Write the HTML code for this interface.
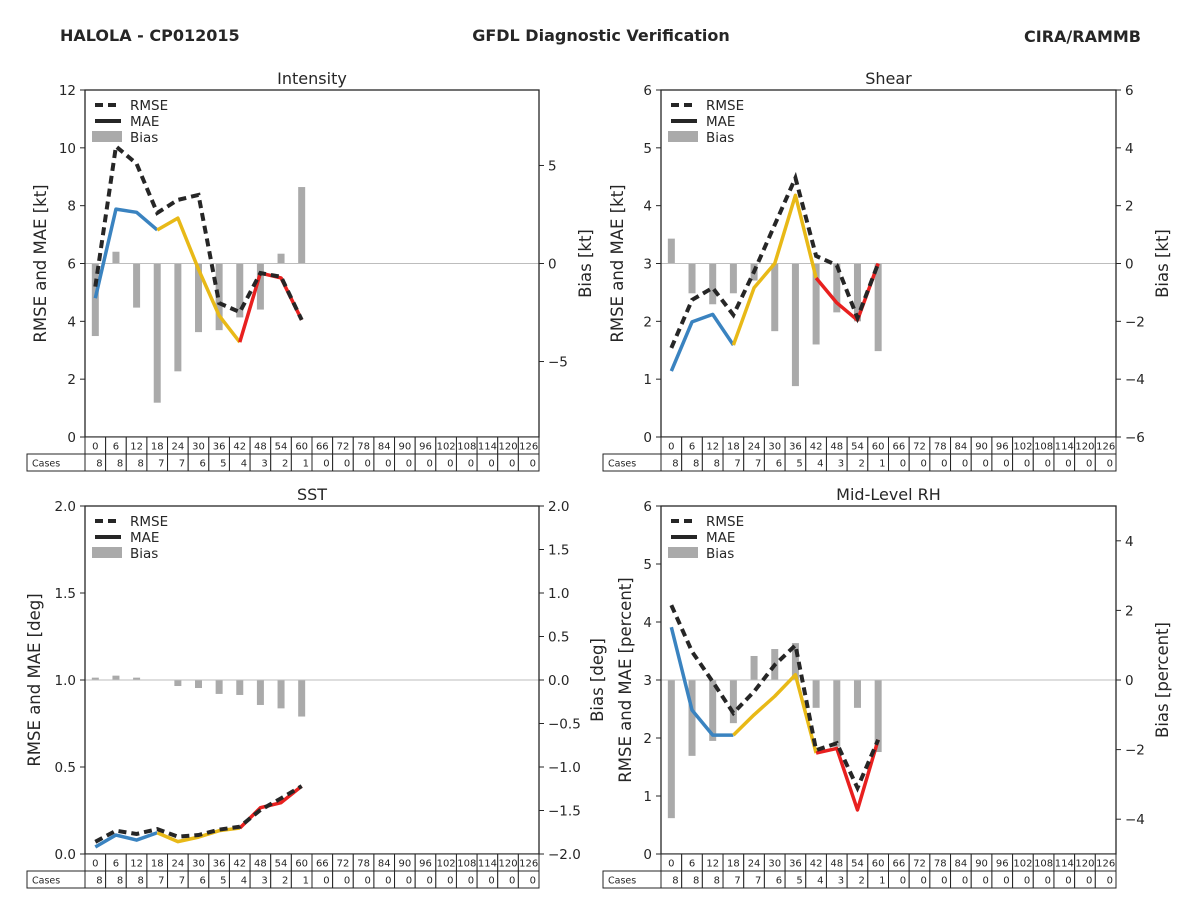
<!DOCTYPE html>
<html><head><meta charset="utf-8"><style>
body{margin:0;background:#fff;}
svg text{font-family:"DejaVu Sans","Liberation Sans",sans-serif;fill:#262626;}
</style></head><body>
<svg id="chart" width="1200" height="900" xmlns="http://www.w3.org/2000/svg">
<text x="60" y="41" font-size="16" font-weight="bold">HALOLA - CP012015</text>
<text x="601" y="41" font-size="16" font-weight="bold" text-anchor="middle">GFDL Diagnostic Verification</text>
<text x="1141" y="42" font-size="16" font-weight="bold" text-anchor="end">CIRA/RAMMB</text>
</svg>
<script>
const leads=[0,6,12,18,24,30,36,42,48,54,60,66,72,78,84,90,96,102,108,114,120,126];
const cases=[8,8,8,7,7,6,5,4,3,2,1,0,0,0,0,0,0,0,0,0,0,0];
const intRmse=[5.2,10.05,9.45,7.75,8.2,8.37,4.63,4.32,5.67,5.54,4.05];
const intMae=[4.8,7.88,7.77,7.16,7.57,5.8,4.2,3.28,5.67,5.5,4.05];
const intBias=[-3.7,0.6,-2.25,-7.1,-5.5,-3.5,-3.4,-2.75,-2.35,0.5,3.9];
const shrRmse=[1.54,2.37,2.58,2.11,2.86,3.67,4.48,3.13,2.97,2.06,3.0];
const shrMae=[1.14,1.99,2.12,1.59,2.58,3.0,4.18,2.75,2.32,2.02,3.0];
const shrBias=[0.86,-1.03,-1.41,-1.03,-0.59,-2.34,-4.24,-2.8,-1.69,-2.0,-3.03];
const sstRmse=[0.07,0.134,0.115,0.143,0.1,0.109,0.14,0.157,0.253,0.32,0.39];
const sstMae=[0.04,0.109,0.08,0.122,0.071,0.097,0.134,0.149,0.266,0.295,0.39];
const sstBias=[0.027,0.05,0.027,0.005,-0.069,-0.092,-0.16,-0.172,-0.287,-0.326,-0.42];
const rhRmse=[4.29,3.49,2.97,2.43,2.8,3.26,3.6,1.79,1.91,1.14,1.97];
const rhMae=[3.91,2.48,2.05,2.05,2.4,2.72,3.09,1.74,1.82,0.76,1.97];
const rhBias=[-3.97,-2.18,-1.75,-1.24,0.69,0.89,1.06,-0.8,-1.92,-0.8,-2.07];
const NS='http://www.w3.org/2000/svg';
const svg=document.getElementById('chart');
function mk(tag,attrs,parent,txt){const e=document.createElementNS(NS,tag);for(const k in attrs)e.setAttribute(k,attrs[k]);if(txt!==undefined)e.textContent=txt;(parent||svg).appendChild(e);return e;}
const panels=[
 {key:'intensity',title:'Intensity',x0:85,x1:539,y0:90,y1:437,lmax:12,lticks:[0,2,4,6,8,10,12],lfmt:v=>String(v),rmin:-8.85,rmax:8.85,rticks:[-5,0,5],rfmt:v=>v<0?'\u2212'+(-v):String(v),ll:'RMSE and MAE [kt]',rl:'Bias [kt]',llx:46,rlx:591,rmse:intRmse,mae:intMae,bias:intBias},
 {key:'shear',title:'Shear',x0:661,x1:1116,y0:90,y1:437,lmax:6,lticks:[0,1,2,3,4,5,6],lfmt:v=>String(v),rmin:-6,rmax:6,rticks:[-6,-4,-2,0,2,4,6],rfmt:v=>v<0?'\u2212'+(-v):String(v),ll:'RMSE and MAE [kt]',rl:'Bias [kt]',llx:623,rlx:1168,rmse:shrRmse,mae:shrMae,bias:shrBias},
 {key:'sst',title:'SST',x0:85,x1:539,y0:506,y1:854,lmax:2,lticks:[0,0.5,1,1.5,2],lfmt:v=>v.toFixed(1),rmin:-2,rmax:2,rticks:[-2,-1.5,-1,-0.5,0,0.5,1,1.5,2],rfmt:v=>v<0?'\u2212'+(-v).toFixed(1):v.toFixed(1),ll:'RMSE and MAE [deg]',rl:'Bias [deg]',llx:40,rlx:603,rmse:sstRmse,mae:sstMae,bias:sstBias},
 {key:'rh',title:'Mid-Level RH',x0:661,x1:1116,y0:506,y1:854,lmax:6,lticks:[0,1,2,3,4,5,6],lfmt:v=>String(v),rmin:-5,rmax:5,rticks:[-4,-2,0,2,4],rfmt:v=>v<0?'\u2212'+(-v):String(v),ll:'RMSE and MAE [percent]',rl:'Bias [percent]',llx:631,rlx:1168,rmse:rhRmse,mae:rhMae,bias:rhBias}
];
const segs=[{from:0,to:3,color:'#3a83c0'},{from:3,to:7,color:'#e8b917'},{from:7,to:10,color:'#e8201f'}];
panels.forEach(p=>{
 const g=mk('g',{});
 
 
 const cw=(p.x1-p.x0)/leads.length;
 const xs=i=>p.x0+cw*(i+0.5);
 const yl=v=>p.y1-(v/p.lmax)*(p.y1-p.y0);
 const yr=v=>p.y1-((v-p.rmin)/(p.rmax-p.rmin))*(p.y1-p.y0);
 const t=mk('text',{x:(p.x0+p.x1)/2,y:p.y0-6,'font-size':16,'text-anchor':'middle'},g,p.title);
 
 
 p.bias.forEach((b,i)=>{
  const y0=yr(0),y=yr(b);
  const r=mk('rect',{x:xs(i)-3.5,y:Math.min(y0,y),width:7,height:Math.abs(y-y0),fill:'#aaaaaa'},g);
  
  
 });
 const zl=mk('line',{x1:p.x0,x2:p.x1,y1:yr(0),y2:yr(0),stroke:'#bdbdbd','stroke-width':1},g);
 
 
 segs.forEach(s=>{
  const pts=[];for(let i=s.from;i<=s.to&&i<p.mae.length;i++)pts.push(xs(i)+','+yl(p.mae[i]));
  const l=mk('polyline',{points:pts.join(' '),fill:'none',stroke:s.color,'stroke-width':3.5,'stroke-linejoin':'round'},g);
  
  
 });
 const rp=p.rmse.map((v,i)=>xs(i)+','+yl(v)).join(' ');
 const rl=mk('polyline',{points:rp,fill:'none',stroke:'#262626','stroke-width':4,'stroke-dasharray':'8,5'},g);
 
 
 const fr=mk('rect',{x:p.x0,y:p.y0,width:p.x1-p.x0,height:p.y1-p.y0,fill:'none',stroke:'#262626','stroke-width':1.3},g);
 
 
 p.lticks.forEach(v=>{
  mk('line',{x1:p.x0-5,x2:p.x0,y1:yl(v),y2:yl(v),stroke:'#262626'},g);
  const tt=mk('text',{x:p.x0-9,y:yl(v)+5,'font-size':13.5,'text-anchor':'end'},g,p.lfmt(v));
  
  
 });
 p.rticks.forEach(v=>{
  mk('line',{x1:p.x1,x2:p.x1+5,y1:yr(v),y2:yr(v),stroke:'#262626'},g);
  const tt=mk('text',{x:p.x1+9,y:yr(v)+5,'font-size':13.5},g,p.rfmt(v));
  
  
 });
 const cy=(p.y0+p.y1)/2;
 const la=mk('text',{x:p.llx,y:cy,'font-size':16.5,'text-anchor':'middle',transform:'rotate(-90 '+p.llx+' '+cy+')'},g,p.ll);
 
 
 const ra=mk('text',{x:p.rlx,y:cy,'font-size':16.5,'text-anchor':'middle',transform:'rotate(-90 '+p.rlx+' '+cy+')'},g,p.rl);
 
 
 const lg=mk('g',{},g);
 
 
 const lx=p.x0+10,ly=p.y0+15;
 mk('line',{x1:lx,x2:lx+26,y1:ly,y2:ly,stroke:'#262626','stroke-width':4,'stroke-dasharray':'8,5'},lg);
 mk('text',{x:lx+35,y:ly+5,'font-size':13.5},lg,'RMSE');
 mk('line',{x1:lx,x2:lx+26,y1:ly+16,y2:ly+16,stroke:'#262626','stroke-width':4},lg);
 mk('text',{x:lx+35,y:ly+21,'font-size':13.5},lg,'MAE');
 mk('rect',{x:lx-3,y:ly+26,width:30,height:11,fill:'#aaaaaa'},lg);
 mk('text',{x:lx+35,y:ly+37,'font-size':13.5},lg,'Bias');
 const tb=mk('g',{},g);
 
 
 const r1=p.y1,r2=p.y1+17;
 mk('rect',{x:p.x0-58,y:r2,width:58,height:17,fill:'#fff',stroke:'#262626'},tb);
 mk('text',{x:p.x0-53,y:r2+12.5,'font-size':9.5},tb,'Cases');
 leads.forEach((L,i)=>{
  const cx=p.x0+cw*i;
  mk('rect',{x:cx,y:r1,width:cw,height:17,fill:'#fff',stroke:'#262626'},tb);
  mk('text',{x:cx+cw/2,y:r1+12.5,'font-size':10,'text-anchor':'middle'},tb,String(L));
  mk('rect',{x:cx,y:r2,width:cw,height:17,fill:'#fff',stroke:'#262626'},tb);
  mk('text',{x:cx+cw-3,y:r2+12.5,'font-size':10,'text-anchor':'end'},tb,String(cases[i]));
 });
});
</script>
</body></html>
